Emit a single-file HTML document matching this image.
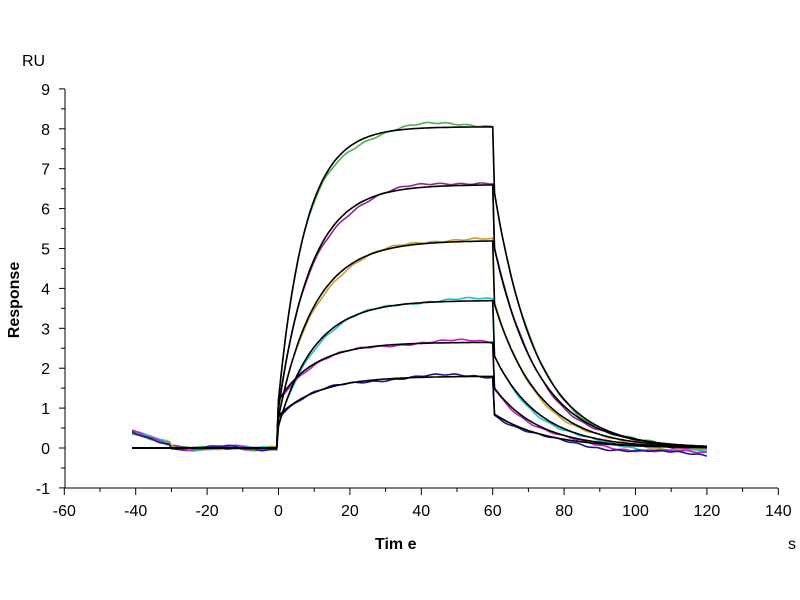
<!DOCTYPE html><html><head><style>body{margin:0;background:#fff}svg{display:block;font-family:"Liberation Sans",sans-serif}</style></head><body>
<svg id="s" width="800" height="600" xmlns="http://www.w3.org/2000/svg">
<g id="ax" stroke="#000" stroke-width="1"></g>
<g id="tx" font-size="16" fill="#000"></g>
<g id="cv" fill="none" stroke-width="1.6"></g>
<text x="22" y="66" font-size="16">RU</text>
<text x="375" y="549" font-size="16" font-weight="bold">Tim e</text>
<text x="788" y="549" font-size="16">s</text>
<text transform="translate(19,300) rotate(-90)" font-size="16" font-weight="bold" text-anchor="middle">Response</text>
</svg>
<script>
const NS="http://www.w3.org/2000/svg";
const X=t=>278.5+t*3.57, Y=v=>448-v*39.9;
function el(p,n,a,txt){const e=document.createElementNS(NS,n);for(const k in a)e.setAttribute(k,a[k]);if(txt!=null)e.textContent=txt;document.getElementById(p).appendChild(e);return e;}
el("ax","line",{x1:65,y1:89,x2:65,y2:488});
el("ax","line",{x1:65,y1:488,x2:778,y2:488});
for(let v=-1;v<=9;v++){el("ax","line",{x1:59,y1:Y(v),x2:65,y2:Y(v)});if(v<9)el("ax","line",{x1:61,y1:Y(v+.5),x2:65,y2:Y(v+.5)});el("tx","text",{x:50,y:Y(v)+6,"text-anchor":"end"},v);}
for(let t=-60;t<=140;t+=20){el("ax","line",{x1:X(t),y1:488,x2:X(t),y2:495});if(t<140)el("ax","line",{x1:X(t+10),y1:488,x2:X(t+10),y2:492});el("tx","text",{x:X(t),y:516,"text-anchor":"middle"},t);}
const S=[[8.05,.12,"#4caf50",6.4,.085],[6.6,.1,"#8b2a8b",5.0,.08],[5.2,.09,"#c8a030",3.6,.08],[3.7,.09,"#20c0c8",2.3,.08],[2.65,.09,"#c020c0",1.5,.08],[1.8,.08,"#1a1a80",.85,.07]];
function fit(s,t){const[A,k,,D,kd]=s;if(t<0)return 0;if(t<=60){const j=A<3?A*.45:A*.15;return j+(A-j)*(1-Math.exp(-k*1.1*t));}return (t<60.5?A:D*Math.exp(-kd*(t-60.5)));}
S.forEach((s,i)=>{let p="";
for(let t=-41;t<=120;t+=0.5){let v=fit(s,t);let n=0.04*Math.sin(t*.2+i)+0.015*Math.sin(t*1.1+i*2);
if(t<0){v=t<-30?0.3*(-(t+30)/11)+0.1:0.02*Math.sin(t/3);} if(t>60)v=v-0.02*(t-60)/60*(i+1)*1.5;
if(t>=0&&t<=60)v-=0.1*Math.sin(t/10)*(s[0]/8);
p+=(p?"L":"M")+X(t).toFixed(1)+","+Y(v+n).toFixed(1);}
el("cv","path",{d:p,stroke:s[2]});});
S.forEach(s=>{let p="M"+X(-41)+","+Y(0)+"L"+X(-0.5)+","+Y(0);
for(let t=0;t<=120;t+=0.5){p+="L"+X(t).toFixed(1)+","+Y(fit(s,t)).toFixed(1);}
el("cv","path",{d:p,stroke:"#000"});});
</script></body></html>
